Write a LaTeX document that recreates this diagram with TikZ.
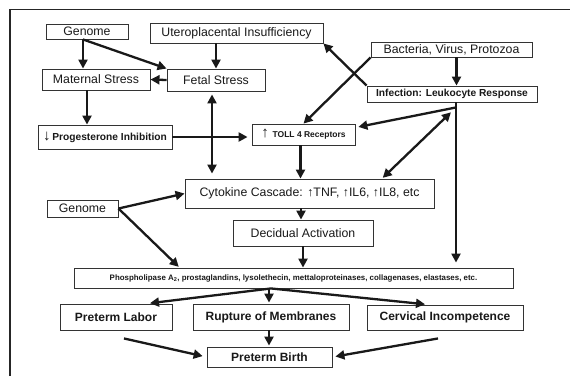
\documentclass[tikz,border=0pt]{standalone}
\usepackage{fontspec}
\setmainfont{Liberation Sans}
\usetikzlibrary{arrows.meta,calc}
\newcommand{\upar}{{\bfseries ↑}}
\tikzset{
  box/.style={draw=black!80, line width=0.9pt, inner sep=0pt, align=center, text=black!90},
  arr/.style={line width=2.3pt, draw=black!90, -{Triangle[length=9pt,width=9pt]}},
  darr/.style={line width=2.3pt, draw=black!90, {Triangle[length=9pt,width=9pt]}-{Triangle[length=9pt,width=9pt]}},
  plain/.style={line width=2.3pt, draw=black!90},
  nf/.style={font=\fontsize{12.3}{14}\selectfont},
  bf/.style={font=\fontsize{10.2}{12}\selectfont\bfseries},
  sf/.style={font=\fontsize{8.5}{10}\selectfont\bfseries},
  pf/.style={font=\fontsize{7.9}{9}\selectfont\bfseries},
  lf/.style={font=\fontsize{12}{14}\selectfont\bfseries},
}
\begin{document}
\begin{tikzpicture}[x=1pt,y=-1pt]
\useasboundingbox (0,0) rectangle (570,376);
\fill[white] (0,0) rectangle (570,376);
\draw[line width=1.5pt, black!85] (10,376) -- (10,9.5) -- (570,9.5);

\node[box,nf,minimum width=82pt,minimum height=15pt] (genome1) at (87,31.5) {Genome};
\node[box,nf,minimum width=173pt,minimum height=20pt] (utero) at (236.5,33) {Uteroplacental Insufficiency};
\node[box,nf,minimum width=161pt,minimum height=15pt] (bact) at (451.5,49.5) {Bacteria, Virus, Protozoa};
\node[box,nf,minimum width=108pt,minimum height=21pt] (mat) at (96,79.5) {Maternal Stress};
\node[box,nf,minimum width=98pt,minimum height=22pt] (fetal) at (216,80) {Fetal Stress};
\node[box,bf,minimum width=170pt,minimum height=16pt] (infect) at (452,94) {Infection: Leukocyte Response};
\node[box,bf,minimum width=134pt,minimum height=24pt] (prog) at (105,137) {{\fontsize{15}{12}\selectfont ↓}\,Progesterone Inhibition};
\node[box,sf,minimum width=103pt,minimum height=21pt] (toll) at (303.5,134.5) {{\fontsize{15}{12}\selectfont ↑}\, TOLL 4 Receptors};
\node[box,nf,minimum width=249pt,minimum height=29pt] (cyto) at (309.5,193.5) {Cytokine Cascade: \upar TNF, \upar IL6, \upar IL8, etc};
\node[box,nf,minimum width=71pt,minimum height=17pt] (genome2) at (82.5,208.5) {Genome};
\node[box,nf,minimum width=140pt,minimum height=26pt] (decid) at (303,233) {Decidual Activation};
\node[box,pf,minimum width=439pt,minimum height=20pt] (phos) at (293.5,278) {Phospholipase A\textsubscript{2}, prostaglandins, lysolethecin, mettaloproteinases, collagenases, elastases, etc.};
\node[box,lf,minimum width=112pt,minimum height=26pt] (labor) at (116,317) {Preterm Labor};
\node[box,lf,minimum width=156pt,minimum height=26pt] (rupt) at (271,317) {Rupture of Membranes};
\node[box,lf,minimum width=156pt,minimum height=25pt] (cerv) at (445,317.5) {Cervical Incompetence};
\node[box,lf,minimum width=125pt,minimum height=20pt] (birth) at (269.5,357) {Preterm Birth};

% top left
\coordinate (g1) at ([xshift=-4pt]genome1.south);
\draw[arr] (g1) -- (g1 |- mat.north);
\draw[arr] (g1) -- (fetal.north west);
\draw[arr] (fetal.north |- utero.south) -- (fetal.north);
\draw[arr] (fetal.west) -- (mat.east);
\coordinate (m1) at ([xshift=-9pt]mat.south);
\draw[arr] (m1) -- (m1 |- prog.north);
\coordinate (f1) at ([xshift=-4pt]fetal.south);
\draw[darr, shorten <=3pt, shorten >=5pt] (f1) -- (f1 |- cyto.north);
\draw[arr, shorten >=4pt] (prog.east) -- (prog.east -| toll.west);

% infection side
\draw[arr] (bact.south west) -- (toll.north);
\coordinate (b1) at ([xshift=5pt]bact.south);
\draw[arr] (b1) -- (b1 |- infect.north);
\draw[arr] (infect.north west) -- (utero.south east);
\coordinate (J) at ([shift={(4pt,-5pt)}]infect.south);
\draw[plain] ([xshift=4pt]infect.south) -- (J);
\draw[arr, shorten >=3pt] (J) -- ([yshift=7pt]toll.east);
\draw[arr, shorten >=5pt] (J) -- (J |- phos.north);
\draw[darr, shorten <=7pt, shorten >=1pt] (J) -- ([xshift=72.5pt]cyto.north);

% middle
\coordinate (t1) at ([xshift=-3pt]toll.south);
\draw[arr] (t1) -- (t1 |- cyto.north);
\draw[arr] (genome2.east) -- (cyto.west);
\draw[arr, shorten >=1pt] (genome2.east) -- ([xshift=-114pt]phos.north);
\coordinate (d1) at ([xshift=-2pt]decid.north);
\draw[arr] (d1 |- cyto.south) -- (d1);
\draw[arr] (decid.south) -- (decid.south |- phos.north);

% bottom
\coordinate (P) at (phos.south -| rupt.north);
\draw[arr, shorten >=3pt] (P) -- ([xshift=31pt]labor.north);
\draw[arr, shorten >=3pt] (P) -- ([xshift=-17pt]cerv.north);
\draw[arr, shorten >=1pt] ([xshift=-2pt]P) -- ([xshift=-2pt]rupt.north);
\draw[arr, shorten >=1pt] ([xshift=-2pt]rupt.south) -- ([xshift=-2pt]rupt.south |- birth.north);
\draw[arr, shorten >=4pt] ([shift={(8pt,-8pt)}]labor.south) -- (birth.west);
\draw[arr, shorten >=3pt] ([shift={(-7pt,-8pt)}]cerv.south) -- (birth.east);
\end{tikzpicture}
\end{document}
